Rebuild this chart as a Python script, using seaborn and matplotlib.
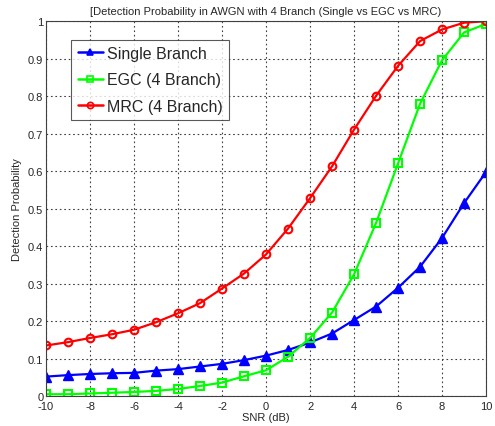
import matplotlib
matplotlib.use("Agg")
import matplotlib.pyplot as plt
from matplotlib.lines import Line2D
import seaborn as sns
import pandas as pd

snr_db = list(range(-10, 11))
single_branch = [0.052, 0.056, 0.059, 0.061, 0.062, 0.068, 0.072, 0.079, 0.086, 0.096, 0.108,
                 0.123, 0.143, 0.167, 0.203, 0.239, 0.289, 0.345, 0.422, 0.515, 0.598]
egc_4 = [0.005, 0.005, 0.007, 0.009, 0.011, 0.014, 0.019, 0.027, 0.036, 0.053, 0.069,
         0.105, 0.155, 0.223, 0.325, 0.462, 0.621, 0.780, 0.896, 0.970, 0.993]
mrc_4 = [0.135, 0.144, 0.155, 0.165, 0.177, 0.197, 0.221, 0.248, 0.287, 0.327, 0.378,
         0.447, 0.528, 0.613, 0.711, 0.801, 0.881, 0.947, 0.978, 0.996, 1.0]
x_ticks = [-10, -8, -6, -4, -2, 0, 2, 4, 6, 8, 10]
y_ticks = [0, 0.1, 0.2, 0.3, 0.4, 0.5, 0.6, 0.7, 0.8, 0.9, 1]
y_tick_labels = ["0", "0.1", "0.2", "0.3", "0.4", "0.5", "0.6", "0.7", "0.8", "0.9", "1"]
series_names = ["Single Branch", "EGC (4 Branch)", "MRC (4 Branch)"]

sns.set_theme(style="white")
plt.rcParams["font.family"] = ["Liberation Sans", "DejaVu Sans"]
plt.rcParams["axes.unicode_minus"] = False

fig = plt.figure(figsize=(4.95, 4.27), dpi=100)
ax = fig.add_axes([0.093, 0.070, 0.889, 0.878])

df = pd.DataFrame({"SNR": snr_db, series_names[0]: single_branch,
                   series_names[1]: egc_4, series_names[2]: mrc_4})

styles = [
    dict(color="#0000ff", marker="^", markersize=7, markerfacecolor="#0000ff", markeredgewidth=1.0),
    dict(color="#00ff00", marker="s", markersize=5.5, markerfacecolor="none", markeredgewidth=1.5),
    dict(color="#ff0000", marker="o", markersize=5.5, markerfacecolor="none", markeredgewidth=1.5),
]
for name, st in zip(series_names, styles):
    sns.lineplot(data=df, x="SNR", y=name, ax=ax, lw=1.6, markeredgecolor=st["color"],
                 legend=False, **st)

ax.set_xlim(-10, 10)
ax.set_ylim(0, 1)
ax.set_xticks(x_ticks)
ax.set_yticks(y_ticks)
ax.set_yticklabels(y_tick_labels)
ax.tick_params(direction="in", length=3, labelsize=8, colors="#262626", pad=2)
ax.tick_params(axis="x", pad=3.5)
ax.grid(True, color="#404040", linestyle=(0, (1.5, 2.5)), linewidth=0.8)
for s in ax.spines.values():
    s.set_color("#404040")
    s.set_linewidth(0.8)

ax.set_xlabel("SNR (dB)", fontsize=8, labelpad=1)
ax.set_ylabel("Detection Probability", fontsize=8, labelpad=4)
ax.set_title("[Detection Probability in AWGN with 4 Branch (Single vs EGC vs MRC)", fontsize=8, pad=5)

handles = [Line2D([], [], color=st["color"], lw=1.8, marker=st["marker"], markersize=4.5,
                  markerfacecolor=st["markerfacecolor"], markeredgecolor=st["color"],
                  markeredgewidth=1.2)
           for st in styles]
leg = ax.legend(handles, series_names, loc="upper left", bbox_to_anchor=(0.057, 0.951),
                borderaxespad=0, fontsize=11.5, frameon=True, fancybox=False,
                handlelength=1.6, borderpad=0.4, labelspacing=0.72, handletextpad=0.25)
leg.get_frame().set_edgecolor("#303030")
leg.get_frame().set_linewidth(0.8)

fig.savefig("out.png", dpi=100, facecolor="white")
